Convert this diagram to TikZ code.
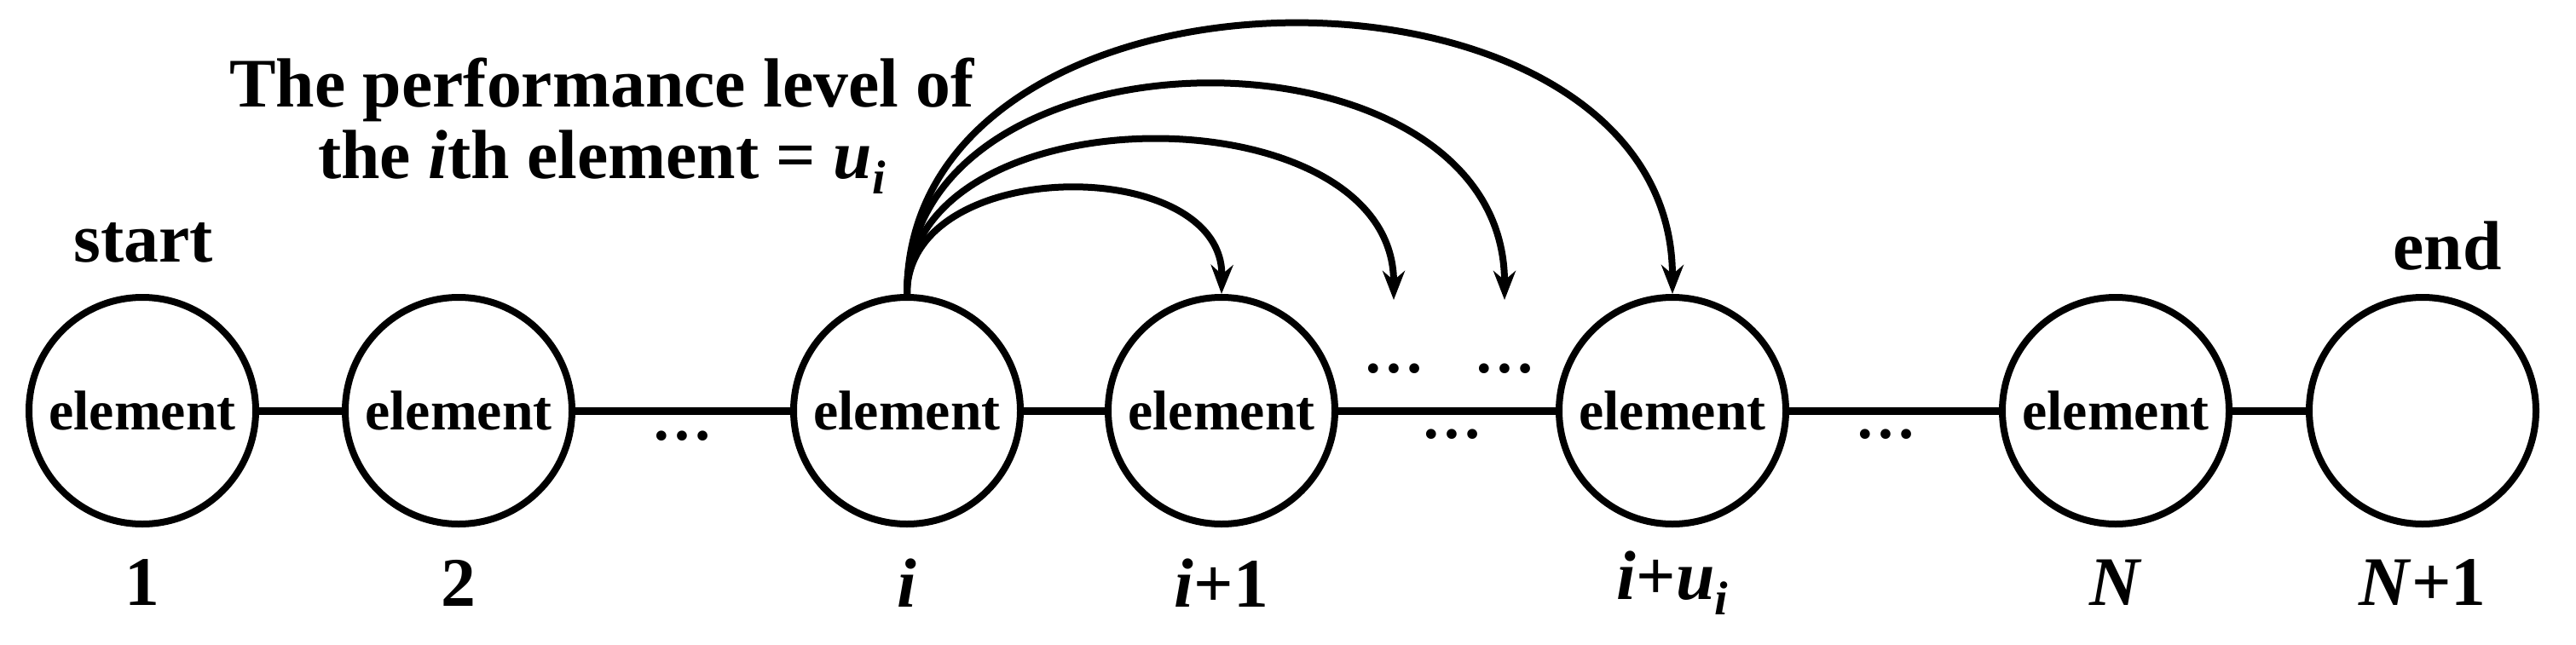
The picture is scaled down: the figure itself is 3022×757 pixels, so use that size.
\documentclass[tikz,border=0pt]{standalone}
\usepackage{fontspec}
\setmainfont{Liberation Serif}
\usetikzlibrary{arrows.meta}
\newcommand{\subi}{\raisebox{-0.22em}{\fontsize{56}{56}\selectfont\textit{i}}}
\begin{document}
\begin{tikzpicture}[x=1bp,y=-1bp,
  elem/.style={circle,draw,line width=8bp,minimum size=266bp,inner sep=0pt,font=\fontsize{66}{70}\selectfont\bfseries},
  lab/.style={font=\fontsize{82}{90}\selectfont\bfseries},
  link/.style={line width=9bp},
  arc/.style={line width=8bp,-{Stealth[length=34bp,width=26bp]}},
  dots/.style={font=\fontsize{72}{72}\selectfont\bfseries}]
\useasboundingbox (0,0) rectangle (3022,757);
\node[elem] (c1) at (167,482) {element};
\node[elem] (c2) at (538,482) {element};
\node[elem] (ci) at (1064,482) {element};
\node[elem] (ci1) at (1433,482) {element};
\node[elem] (ciu) at (1962,482) {element};
\node[elem] (cN) at (2482,482) {element};
\node[elem] (cN1) at (2842,482) {};
\draw[link] (c1) -- (c2);
\draw[link] (c2) -- (ci);
\draw[link] (ci) -- (ci1);
\draw[link] (ci1) -- (ciu);
\draw[link] (ciu) -- (cN);
\draw[link] (cN) -- (cN1);
\node[lab] (l1) at (167,684) {1};
\node[lab] (l2) at (538,684) {2};
\node[lab] (li) at (1064,684) {\textit{i}};
\node[lab] (li1) at (1433,684) {\textit{i}+1};
\node[lab] (liu) at (1962,684) {\textit{i}+\textit{u}\subi};
\node[lab] (lN) at (2482,684) {\textit{N}};
\node[lab] (lN1) at (2842,684) {\textit{N}+1};
\node[lab] (ls) at (168,285) {start};
\node[lab] (le) at (2871,289) {end};
\node[lab,align=center] (t) at (706,148) {The performance level of\\[-6bp]the \textit{i}th element = \textit{u}\subi};
\node[dots] (d1) at (800,512) {…};
\node[dots] (d2) at (1635,433) {…};
\node[dots] (d3) at (1765,433) {…};
\node[dots] (d4) at (1703,510) {…};
\node[dots] (d5) at (2212,510) {…};
\coordinate (a2) at (1635,352);
\coordinate (a3) at (1765,352);
\draw[arc] (ci.north) .. controls (1064,181) and (1436,181) .. (ci1.north);
\draw[arc] (ci.north) .. controls (1064,104) and (1635,104) .. (a2);
\draw[arc] (ci.north) .. controls (1064,17) and (1765,17) .. (a3);
\draw[arc] (ci.north) .. controls (1064,-76) and (1962,-76) .. (ciu.north);
\end{tikzpicture}
\end{document}
